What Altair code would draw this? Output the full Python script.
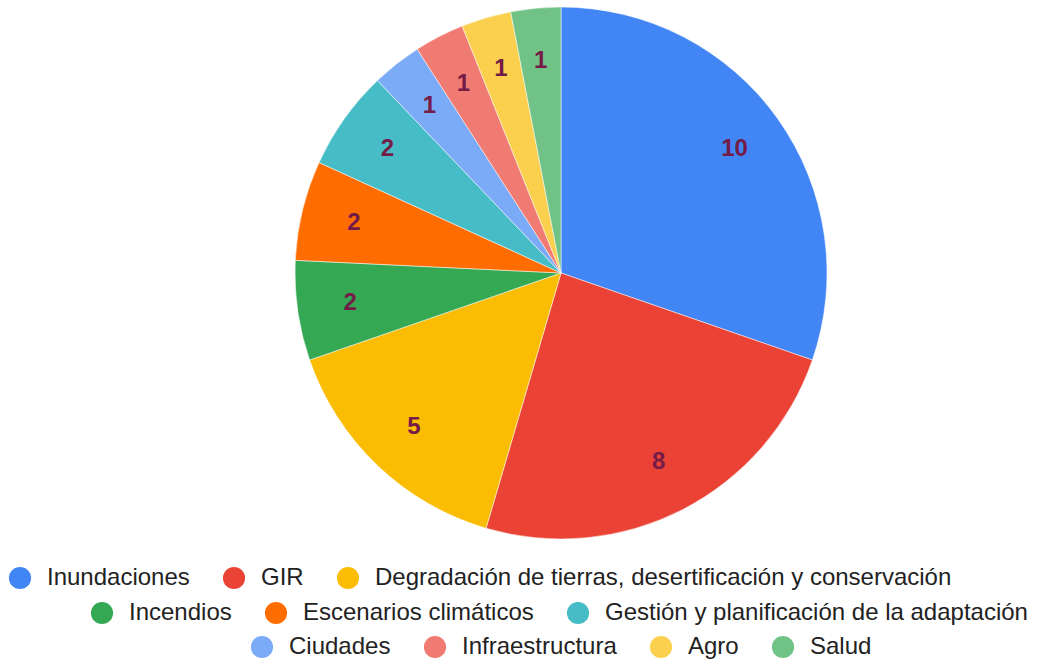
import altair as alt
import pandas as pd

categories = [
    "Inundaciones",
    "GIR",
    "Degradación de tierras, desertificación y conservación",
    "Incendios",
    "Escenarios climáticos",
    "Gestión y planificación de la adaptación",
    "Ciudades",
    "Infraestructura",
    "Agro",
    "Salud",
]
values = [10, 8, 5, 2, 2, 2, 1, 1, 1, 1]
colors = ["#4285F4", "#EA4335", "#FBBC04", "#34A853", "#FF6D01",
          "#46BDC6", "#7BAAF7", "#F07B72", "#FCD04F", "#71C287"]
legend_rows = [0, 0, 0, 1, 1, 1, 2, 2, 2, 2]

df = pd.DataFrame({
    "cat": categories,
    "value": values,
    "order": list(range(len(categories))),
    "row": legend_rows,
})

CX, CY, R = 561, 273, 266
LABEL_R = 213
legend_x = [8, 90, 250]
legend_y = [566, 601, 635]
FONT = "Liberation Sans"

base = (
    alt.Chart(df)
    .transform_window(cum="sum(value)", sort=[alt.SortField("order")])
    .transform_joinaggregate(total="sum(value)")
    .transform_calculate(
        start="(datum.cum - datum.value) / datum.total * 2 * PI",
        end="datum.cum / datum.total * 2 * PI",
        mid="(datum.cum - datum.value / 2) / datum.total * 2 * PI",
    )
)

layers = []
for k in range(3):
    idx = [i for i in range(len(categories)) if legend_rows[i] == k]
    dom = [categories[i] for i in idx]
    rng = [colors[i] for i in idx]
    layer = (
        base.transform_filter(alt.datum.row == k)
        .mark_arc(x=CX, y=CY, outerRadius=R, stroke="white", strokeWidth=0.5)
        .encode(
            theta=alt.Theta("start:Q", scale=None),
            theta2="end:Q",
            color=alt.Color(
                "cat:N",
                scale=alt.Scale(domain=dom, range=rng),
                title=None,
                legend=alt.Legend(
                    orient="none",
                    legendX=legend_x[k],
                    legendY=legend_y[k],
                    direction="horizontal",
                    columns=len(dom),
                ),
            ),
        )
    )
    layers.append(layer)

text = base.mark_text(
    x=CX, y=CY, radius=LABEL_R, font=FONT, fontSize=24,
    fontWeight="bold", color="#741b47",
).encode(
    theta=alt.Theta("mid:Q", scale=None),
    text="value:Q",
)

chart = (
    alt.layer(*layers, text)
    .resolve_scale(color="independent")
    .properties(width=1038, height=660, autosize="none", padding=0)
    .configure_view(strokeWidth=0)
    .configure_legend(
        labelFont=FONT,
        labelFontSize=24,
        labelColor="#222222",
        labelLimit=1000,
        labelOffset=15,
        columnPadding=32,
        padding=0,
        symbolType="circle",
        symbolSize=491,
        symbolStrokeWidth=0,
    )
)

chart.save("out.html", embed_options={"renderer": "svg", "actions": False})
